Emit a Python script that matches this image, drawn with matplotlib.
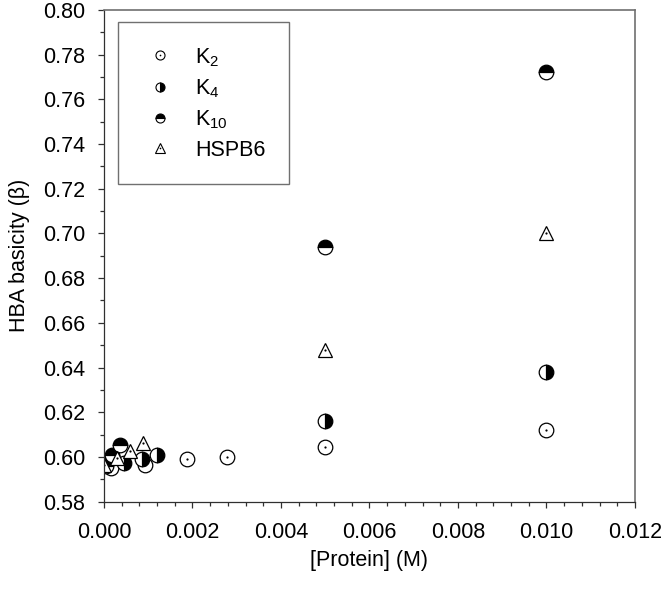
import matplotlib
matplotlib.use("Agg")
import matplotlib.pyplot as plt
from matplotlib.lines import Line2D

plt.rcParams['font.family'] = ['Liberation Sans', 'DejaVu Sans']
plt.rcParams['mathtext.fontset'] = 'custom'
plt.rcParams['mathtext.rm'] = 'Liberation Sans'
plt.rcParams['mathtext.default'] = 'regular'

# data
k2_x = [0.00015, 0.00092, 0.00187, 0.00278, 0.005, 0.010]
k2_y = [0.5949, 0.5964, 0.5991, 0.6001, 0.6046, 0.6121]
k4_x = [0.0, 0.00045, 0.00085, 0.00119, 0.005, 0.010]
k4_y = [0.5965, 0.5975, 0.5990, 0.6007, 0.6161, 0.6380]
k10_x = [0.00005, 0.00018, 0.00037, 0.005, 0.010]
k10_y = [0.5960, 0.6007, 0.6052, 0.6941, 0.7722]
hspb6_x = [0.0, 0.00029, 0.00059, 0.00089, 0.005, 0.010]
hspb6_y = [0.5964, 0.5994, 0.6028, 0.6061, 0.6479, 0.7002]

labels = ['K$_2$', 'K$_4$', 'K$_{10}$', 'HSPB6']
xticks = [0.000, 0.002, 0.004, 0.006, 0.008, 0.010, 0.012]
yticks = [0.58, 0.60, 0.62, 0.64, 0.66, 0.68, 0.70, 0.72, 0.74, 0.76, 0.78, 0.80]

fs = 15.5
ms = 10.5
fig = plt.figure(figsize=(6.64, 5.93), dpi=100)
ax = fig.add_axes([0.1566, 0.1540, 0.7997, 0.8293])

# K2: open circle with dot
ax.plot(k2_x, k2_y, ls='none', marker='o', ms=ms, mfc='white', mec='black', mew=0.9)
ax.plot(k2_x, k2_y, ls='none', marker='o', ms=1.6, mfc='black', mec='black', mew=0)
# K4: right half black
ax.plot(k4_x, k4_y, ls='none', marker='o', ms=ms, fillstyle='right', mfc='black',
        markerfacecoloralt='white', mec='black', mew=0.9)
# K10: top half black
ax.plot(k10_x, k10_y, ls='none', marker='o', ms=ms, fillstyle='top', mfc='black',
        markerfacecoloralt='white', mec='black', mew=0.9)
# HSPB6: open triangle with dot
ax.plot(hspb6_x, hspb6_y, ls='none', marker='^', ms=ms, mfc='white', mec='black', mew=0.9)
ax.plot(hspb6_x, hspb6_y, ls='none', marker='o', ms=1.6, mfc='black', mec='black', mew=0)

ax.set_xlim(0, 0.012)
ax.set_ylim(0.58, 0.80)
ax.set_xticks(xticks)
ax.set_xticklabels(['%.3f' % v for v in xticks])
ax.set_yticks(yticks)
ax.set_yticklabels(['%.2f' % v for v in yticks])
ax.set_xticks([i * 0.0004 for i in range(31)], minor=True)
ax.set_yticks([0.58 + i * 0.01 for i in range(23)], minor=True)
ax.tick_params(which='both', direction='out', top=False, right=False, colors='#303030',
               labelcolor='black', labelsize=fs, width=0.9)
ax.tick_params(which='major', length=4.5)
ax.tick_params(which='minor', length=3)
ax.tick_params(axis='x', pad=10)
ax.tick_params(axis='y', pad=9)
for side in ['left', 'bottom']:
    ax.spines[side].set_color('#303030')
    ax.spines[side].set_linewidth(0.9)
for side in ['top', 'right']:
    ax.spines[side].set_color('#707070')
    ax.spines[side].set_linewidth(1.2)

ax.set_xlabel('[Protein] (M)', fontsize=fs, labelpad=5)
ax.set_ylabel('HBA basicity (\u03b2)', fontsize=fs, labelpad=9)

lms = 6.5
handles = [
    (Line2D([], [], ls='none', marker='o', ms=lms, mfc='white', mec='black', mew=0.8),
     Line2D([], [], ls='none', marker='o', ms=1.2, mfc='black', mec='black', mew=0)),
    Line2D([], [], ls='none', marker='o', ms=lms, fillstyle='right', mfc='black',
           markerfacecoloralt='white', mec='black', mew=0.8),
    Line2D([], [], ls='none', marker='o', ms=lms, fillstyle='top', mfc='black',
           markerfacecoloralt='white', mec='black', mew=0.8),
    (Line2D([], [], ls='none', marker='^', ms=lms, mfc='white', mec='black', mew=0.8),
     Line2D([], [], ls='none', marker='o', ms=1.2, mfc='black', mec='black', mew=0)),
]
leg = ax.legend(handles, labels, loc='upper left', bbox_to_anchor=(0.0258, 0.9748),
                fontsize=fs, frameon=True, fancybox=False, framealpha=1,
                edgecolor='#707070', borderpad=1.1, labelspacing=0.4,
                handlelength=1.7, handletextpad=0.8, borderaxespad=0)
leg.get_frame().set_linewidth(1.0)

fig.savefig('out.png', dpi=100)
